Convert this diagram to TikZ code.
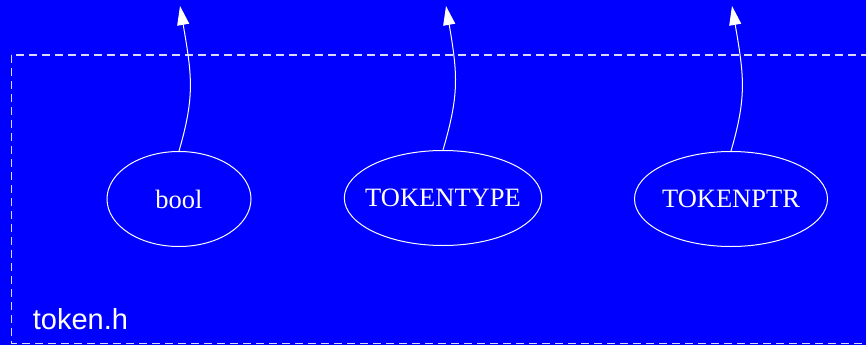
\documentclass[tikz,border=0pt]{standalone}
\usepackage{fontspec}
\setmainfont{Liberation Serif}
\setsansfont{Liberation Sans}
\usetikzlibrary{arrows.meta,positioning,shapes.geometric}

\begin{document}
\begin{tikzpicture}[x=1pt, y=-1pt, line width=1pt, >={Triangle[length=19pt,width=12pt]},
  every node/.style={font=\fontsize{26.5}{30}\selectfont, text=white},
  type/.style={draw=white, ellipse, inner sep=0pt, minimum height=95pt}]
\fill[blue] (0,0) rectangle (866,345);
\useasboundingbox (0,0) rectangle (866,345);
\clip (0,0) rectangle (866,345);
% file cluster
\draw[white!85!blue, dash pattern=on 8pt off 5pt] (11,55) rectangle (880,343);
\node[anchor=base west, font=\sffamily\fontsize{29}{32}\selectfont] (file) at (29,329) {token.h};
\node[type, minimum width=144pt] (bool) at (179,199) {bool};
\node[type, minimum width=193pt, inner xsep=-8pt] (tokentype) at (443,198) {TOKENTYPE};
\node[type, minimum width=193pt, inner xsep=-8pt] (tokenptr) at (731,199) {TOKENPTR};
\coordinate (up1) at (180,6);
\coordinate (up2) at (446,6);
\coordinate (up3) at (732,6);
\draw[->, white] (bool.north) .. controls +(16,-55) and +(12,70) .. (up1);
\draw[->, white] (tokentype.north) .. controls +(16,-55) and +(12,70) .. (up2);
\draw[->, white] (tokenptr.north) .. controls +(16,-55) and +(12,70) .. (up3);
\end{tikzpicture}
\end{document}
